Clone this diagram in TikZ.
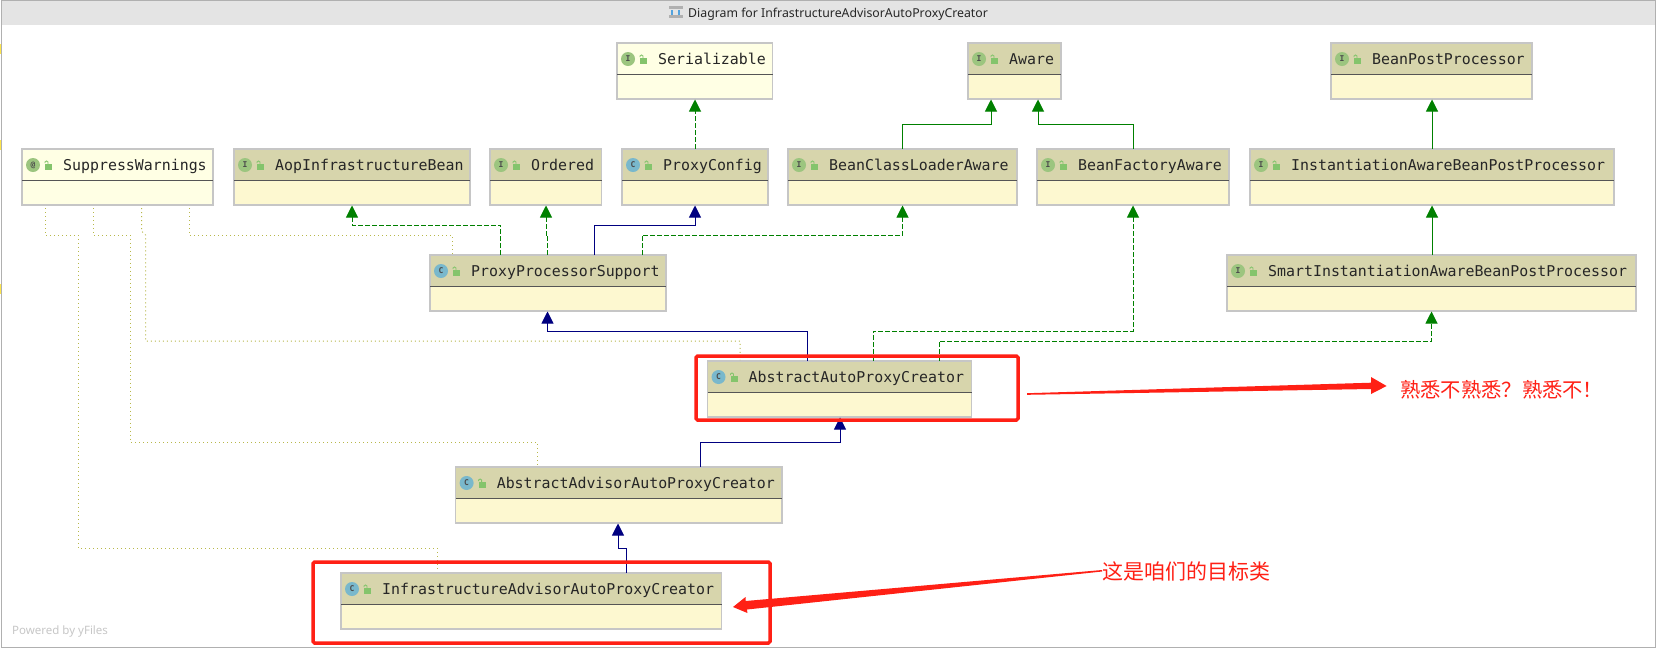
\documentclass[tikz,border=0pt]{standalone}
\usepackage{fontspec}
\setmainfont{Noto Sans}
\setmonofont{DejaVu Sans Mono}
\newfontfamily\cjkfont{Noto Sans CJK SC}
\usetikzlibrary{arrows.meta,calc}
\definecolor{hdrA}{HTML}{D7D5AC}
\definecolor{bodyhdrA}{HTML}{FDF8D0}
\definecolor{libA}{HTML}{FFFFE4}
\definecolor{bodylibA}{HTML}{FFFFE4}
\definecolor{edgeA}{HTML}{C6C6C6}
\definecolor{divA}{HTML}{555555}
\definecolor{iconI}{HTML}{9CC57F}
\definecolor{iconC}{HTML}{79B8CC}
\definecolor{lockA}{HTML}{84C46C}
\definecolor{greenA}{HTML}{008000}
\definecolor{blueA}{HTML}{000080}
\definecolor{dotA}{HTML}{B8B84A}
\definecolor{redA}{HTML}{FF2015}
\definecolor{frameA}{HTML}{B0B0B0}
\tikzset{
  x=1pt,y=-1pt,
  classbox/.style={draw=edgeA,line width=1.3pt,inner sep=0pt,outer sep=0pt,anchor=north west,minimum height=56pt},
  classname/.style={anchor=base west,inner sep=0pt,font=\ttfamily\fontsize{14.9}{16}\selectfont,text=black!85},
  badge/.style={circle,inner sep=0pt,minimum size=14pt,font=\ttfamily\bfseries\fontsize{8}{8}\selectfont,text=black!70},
  realize/.style={line width=0.95pt,color=greenA,dash pattern=on 5pt off 2pt,-{Triangle[length=12pt,width=12pt]},shorten >=0.5pt},
  inherit/.style={line width=0.95pt,color=greenA,-{Triangle[length=12pt,width=12pt]},shorten >=0.5pt},
  extend/.style={line width=0.95pt,color=blueA,-{Triangle[length=12pt,width=12pt]},shorten >=0.5pt},
  annot/.style={line width=1pt,color=dotA,dash pattern=on 1pt off 3pt,shorten <=3pt,shorten >=1pt},
  highlight/.style={draw=redA,line width=3.5pt,rounded corners=1.5pt,anchor=north west,inner sep=0pt,outer sep=0pt},
  redtext/.style={text=redA,inner sep=0pt,font=\cjkfont\fontsize{20.3}{22}\selectfont},
}
% name, left, right, top, letter, badge colour, header colour, text
\newcommand{\classnode}[8]{%
  \pgfmathsetmacro{\boxwidth}{#3-#2}%
  \node[classbox,fill=body#7,minimum width=\boxwidth pt] (#1) at (#2,#4) {};
  \fill[#7] ([shift={(0.65pt,-0.65pt)}]#1.north west) rectangle ([shift={(-0.65pt,-31pt)}]#1.north east);
  \draw[divA,line width=1pt] ([yshift=-31pt]#1.north west) -- ([yshift=-31pt]#1.north east);
  \node[badge,fill=#6] (#1-b) at ([shift={(11pt,-16pt)}]#1.north west) {#5};
  \fill[lockA] ([shift={(23pt,-15pt)}]#1.north west) rectangle ([shift={(30pt,-20.5pt)}]#1.north west);
  \draw[lockA,line width=0.9pt] ([shift={(26pt,-15pt)}]#1.north west) -- ([shift={(26pt,-13pt)}]#1.north west) -- ([shift={(24.5pt,-12pt)}]#1.north west) -- ([shift={(23pt,-13pt)}]#1.north west) -- ([shift={(23pt,-14pt)}]#1.north west);
  \node[classname] (#1-t) at ([shift={(41pt,-21.6pt)}]#1.north west) {#8};
}
\begin{document}
\begin{tikzpicture}
\useasboundingbox (0,0) rectangle (1657,649);
\fill[white] (0,0) rectangle (1657,649);
% window frame and title
\fill[black!10.5] (1.5,0) rectangle (1655.5,25);
\draw[frameA,line width=1.2pt] (1.5,647.5) -- (1.5,0.6) -- (1655.5,0.6) -- (1655.5,647.5) -- cycle;
\fill[frameA] (669,5.5) rectangle (682.7,9);
\fill[frameA] (669,15) rectangle (682.7,18.3);
\fill[cyan!70!blue!70] (671,9.5) rectangle (673,14.5);
\fill[cyan!70!blue!70] (678,9.5) rectangle (680,14.5);
\node[anchor=base west,inner sep=0pt,font=\fontsize{12.3}{14}\selectfont,text=black!85] (title) at (688,17) {Diagram for InfrastructureAdvisorAutoProxyCreator};
\fill[yellow!80!orange!70] (0,44) rectangle (1,54);
\fill[yellow!80!orange!70] (0,140) rectangle (1,150);
\fill[yellow!80!orange!70] (0,284) rectangle (1,294);

% classes
\classnode{ser}{617}{772.5}{43}{I}{iconI}{libA}{Serializable}
\classnode{aware}{968}{1061}{43}{I}{iconI}{hdrA}{Aware}
\classnode{bpp}{1331}{1532}{43}{I}{iconI}{hdrA}{BeanPostProcessor}
\classnode{sw}{22}{213}{149}{@}{iconI}{libA}{SuppressWarnings}
\classnode{aop}{234}{470}{149}{I}{iconI}{hdrA}{AopInfrastructureBean}
\classnode{ord}{490}{601.5}{149}{I}{iconI}{hdrA}{Ordered}
\classnode{pc}{622}{768}{149}{C}{iconC}{hdrA}{ProxyConfig}
\classnode{bcla}{788}{1017}{149}{I}{iconI}{hdrA}{BeanClassLoaderAware}
\classnode{bfa}{1037}{1229}{149}{I}{iconI}{hdrA}{BeanFactoryAware}
\classnode{iabpp}{1250}{1614}{149}{I}{iconI}{hdrA}{InstantiationAwareBeanPostProcessor}
\classnode{pps}{430}{666}{255}{C}{iconC}{hdrA}{ProxyProcessorSupport}
\classnode{smart}{1227}{1636}{255}{I}{iconI}{hdrA}{SmartInstantiationAwareBeanPostProcessor}
\classnode{aapc}{707.5}{971.5}{361}{C}{iconC}{hdrA}{AbstractAutoProxyCreator}
\classnode{aaa}{455.6}{782}{467}{C}{iconC}{hdrA}{AbstractAdvisorAutoProxyCreator}
\classnode{iaa}{341}{721.5}{573}{C}{iconC}{hdrA}{InfrastructureAdvisorAutoProxyCreator}

% hierarchy connectors
\draw[realize] ([xshift=73pt]pc.north west) -- ([xshift=78pt]ser.south west);
\draw[realize] ([xshift=70.5pt]pps.north west) -- ++(0,-30) -| ([xshift=118pt]aop.south west);
\draw[realize] ([xshift=117.5pt]pps.north west) -- ++(0,-20) -| ([xshift=56pt]ord.south west);
\draw[extend] ([xshift=164pt]pps.north west) -- ++(0,-30) -| ([xshift=73pt]pc.south west);
\draw[realize] ([xshift=212pt]pps.north west) -- ++(0,-20) -| ([xshift=114.5pt]bcla.south west);
\draw[inherit] ([xshift=114.5pt]bcla.north west) -- ++(0,-25) -| ([xshift=23pt]aware.south west);
\draw[inherit] ([xshift=96pt]bfa.north west) -- ++(0,-25) -| ([xshift=70pt]aware.south west);
\draw[inherit] ([xshift=182pt]iabpp.north west) -- ([xshift=101pt]bpp.south west);
\draw[inherit] ([xshift=205pt]smart.north west) -- ([xshift=182pt]iabpp.south west);
\draw[extend] ([xshift=99.5pt]aapc.north west) -- ++(0,-30) -| ([xshift=117.5pt]pps.south west);
\draw[realize] ([xshift=165.5pt]aapc.north west) -- ++(0,-30) -| ([xshift=96pt]bfa.south west);
\draw[realize] ([xshift=231.5pt]aapc.north west) -- ++(0,-20) -| ([xshift=204.5pt]smart.south west);
\draw[extend] ([xshift=245pt]aaa.north west) -- ++(0,-25) -| ([xshift=132.5pt]aapc.south west);
\draw[extend] ([xshift=285.5pt]iaa.north west) -- ++(0,-25) -| ([xshift=162.4pt]aaa.south west);

% annotation links
\draw[annot] ([xshift=167pt]sw.south west) -- ++(0,30) -| ([xshift=22pt]pps.north west);
\draw[annot] ([xshift=119.5pt]sw.south west) -- ++(0,26) -- ++(4,4) -- ++(0,106) -| ([xshift=32.5pt]aapc.north west);
\draw[annot] ([xshift=71.4pt]sw.south west) -- ++(0,30) -- ++(37.2,0) -- ++(0,207) -| ([xshift=81.4pt]aaa.north west);
\draw[annot] ([xshift=23.4pt]sw.south west) -- ++(0,30) -- ++(33.2,0) -- ++(0,313.3) -| ([xshift=96pt]iaa.north west);

% red highlights and notes
\node[highlight,minimum width=322pt,minimum height=64pt] (hitop) at (696,356) {};
\node[highlight,minimum width=457pt,minimum height=81pt] (hibot) at (313,562) {};
\node[redtext,anchor=west] (notetop) at (1400,390) {熟悉不熟悉？熟悉不！};
\node[redtext,anchor=west,font=\cjkfont\fontsize{21}{22}\selectfont] (notebot) at (1102,571) {这是咱们的目标类};
\fill[redA] (1027,393.2) -- (1371,382.7) -- (1371,377) -- (1386.6,386) -- (1371,394) -- (1371,389) -- (1027,394.8) -- cycle;
\fill[redA] (1102,570) -- (745.5,601) -- (745.5,597) -- (733,607) -- (747.4,613) -- (747,609.5) -- (1102,571.5) -- cycle;
\node[anchor=base west,inner sep=0pt,font=\fontsize{11.5}{13}\selectfont,text=black!22] (yfiles) at (12,634) {Powered by yFiles};
\end{tikzpicture}
\end{document}
